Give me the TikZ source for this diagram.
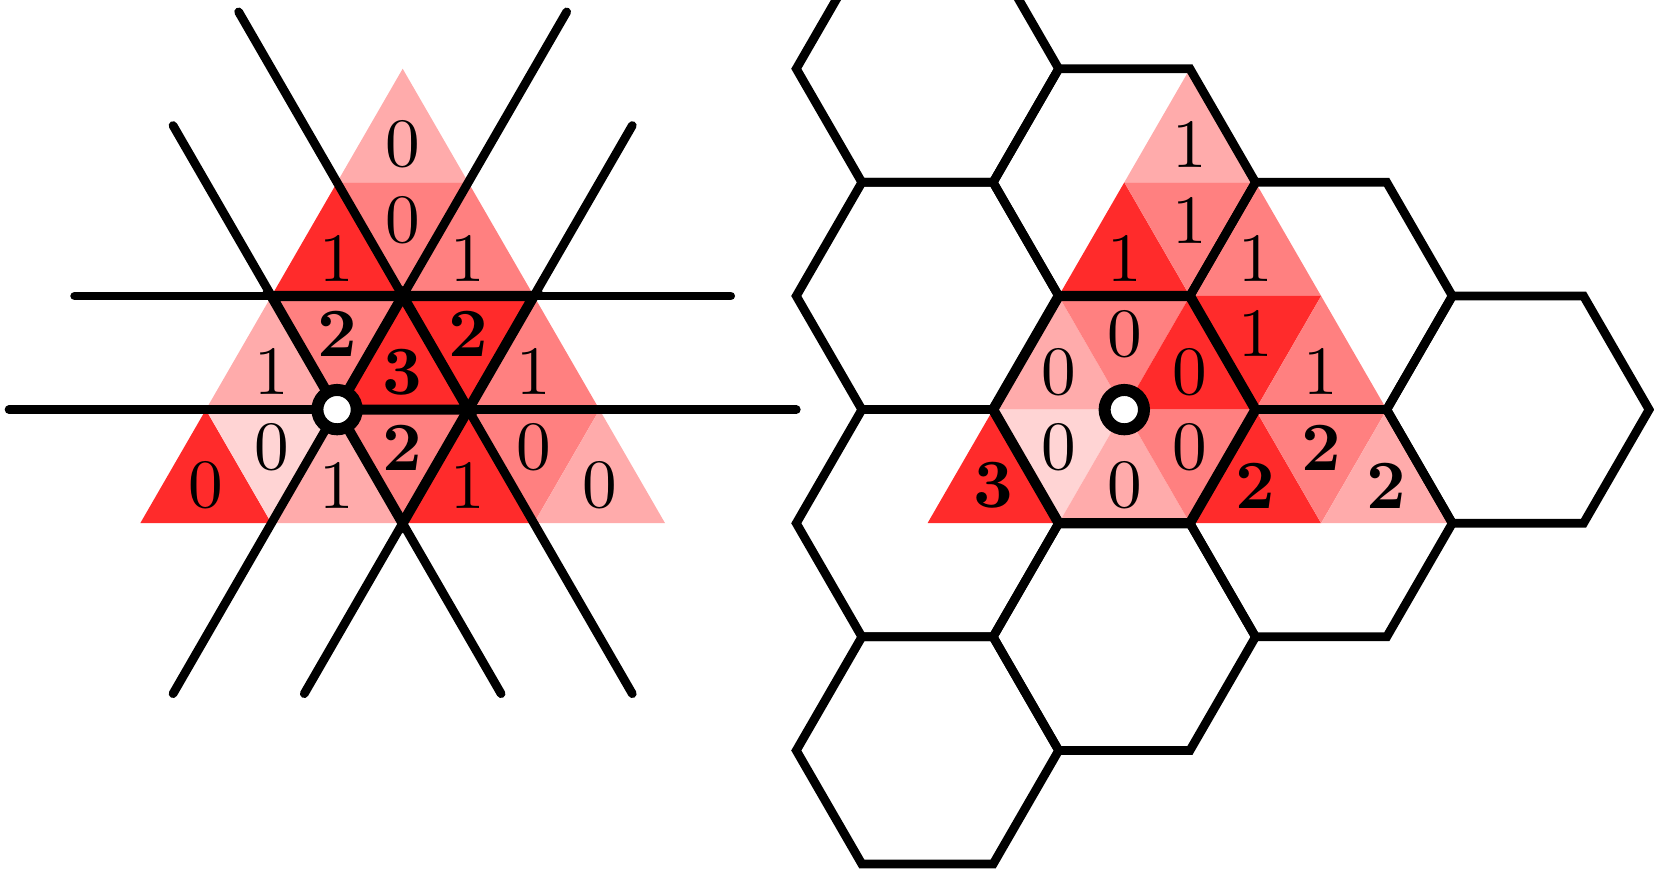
\documentclass[tikz,border=0pt]{standalone}
\usepackage{tikz}
\usetikzlibrary{positioning}

\begin{document}
\begin{tikzpicture}[x=1cm,y=0.866cm,
  pale/.style={fill=red!17}, soft/.style={fill=red!33},
  half/.style={fill=red!50}, deep/.style={fill=red!83},
  grid/.style={line width=1.9pt,line cap=round},
  bold grid/.style={line width=2.2pt,line cap=round},
  hexa/.style={line width=1.9pt},
  lbl/.style={scale=1.5,inner sep=0pt},
  hole/.style={draw,circle,fill=white,line width=2.6pt,minimum size=0.3cm,inner sep=0pt}]
\useasboundingbox (-1.069cm,-2.651cm) rectangle (11.537cm,3.988cm);
\clip (-1.069cm,-2.651cm) rectangle (11.537cm,3.988cm);

% same shading under both pictures
\foreach \dx in {0,6} {
\begin{scope}[shift={(\dx,0)}]
\fill[soft] (1.5,3) -- (2.5,3) -- (2,4) -- cycle;
\fill[deep] (1,2) -- (2,2) -- (1.5,3) -- cycle;
\fill[half] (1.5,3) -- (2.5,3) -- (2,2) -- cycle;
\fill[half] (2,2) -- (3,2) -- (2.5,3) -- cycle;
\fill[soft] (.5,1) -- (1.5,1) -- (1,2) -- cycle;
\fill[half] (1,2) -- (2,2) -- (1.5,1) -- cycle;
\fill[deep] (1.5,1) -- (2.5,1) -- (2,2) -- cycle;
\fill[deep] (2,2) -- (3,2) -- (2.5,1) -- cycle;
\fill[half] (2.5,1) -- (3.5,1) -- (3,2) -- cycle;
\fill[deep] (0,0) -- (1,0) -- (.5,1) -- cycle;
\fill[pale] (.5,1) -- (1.5,1) -- (1,0) -- cycle;
\fill[soft] (1,0) -- (2,0) -- (1.5,1) -- cycle;
\fill[half] (1.5,1) -- (2.5,1) -- (2,0) -- cycle;
\fill[deep] (2,0) -- (3,0) -- (2.5,1) -- cycle;
\fill[half] (2.5,1) -- (3.5,1) -- (3,0) -- cycle;
\fill[soft] (3,0) -- (4,0) -- (3.5,1) -- cycle;
\end{scope}}

% lines
\draw[grid] (-.5,2) -- (4.5,2);
\draw[grid] (-1,1) -- (5,1);
\draw[grid] (.75,4.5) -- (3.75,-1.5);
\draw[grid] (.25,3.5) -- (2.75,-1.5);
\draw[grid] (3.25,4.5) -- (.25,-1.5);
\draw[grid] (3.75,3.5) -- (1.25,-1.5);
\draw[bold grid] (1,2) -- (3,2) -- (2,0) -- cycle;
\draw[bold grid] (1.5,1) -- (2.5,1) -- (2,2) -- cycle;

% hexagons
\foreach \c in {(6,4),(7.5,3),(6,2),(9,2),(10.5,1),(6,0),(9,0),(7.5,-1),(6,-2)}
  \draw[hexa,shift={\c}] (-1,0) -- (-.5,1) -- (.5,1) -- (1,0) -- (.5,-1) -- (-.5,-1) -- cycle;
\draw[hexa,line width=2.2pt] (6.5,1) -- (7,2) -- (8,2) -- (8.5,1) -- (8,0) -- (7,0) -- cycle;

\node[lbl] (a1) at (2,3.333) {0};
\node[lbl] (a2) at (1.5,2.333) {1};
\node[lbl] (a3) at (2,2.667) {0};
\node[lbl] (a4) at (2.5,2.333) {1};
\node[lbl] (a5) at (1,1.333) {1};
\node[lbl] (a6) at (1.5,1.667) {\textbf{2}};
\node[lbl] (a7) at (2,1.333) {\textbf{3}};
\node[lbl] (a8) at (2.5,1.667) {\textbf{2}};
\node[lbl] (a9) at (3,1.333) {1};
\node[lbl] (a10) at (.5,.333) {0};
\node[lbl] (a11) at (1,.667) {0};
\node[lbl] (a12) at (1.5,.333) {1};
\node[lbl] (a13) at (2,.667) {\textbf{2}};
\node[lbl] (a14) at (2.5,.333) {1};
\node[lbl] (a15) at (3,.667) {0};
\node[lbl] (a16) at (3.5,.333) {0};

\node[lbl] (b1) at (8,3.333) {1};
\node[lbl] (b2) at (7.5,2.333) {1};
\node[lbl] (b3) at (8,2.667) {1};
\node[lbl] (b4) at (8.5,2.333) {1};
\node[lbl] (b5) at (7,1.333) {0};
\node[lbl] (b6) at (7.5,1.667) {0};
\node[lbl] (b7) at (8,1.333) {0};
\node[lbl] (b8) at (8.5,1.667) {1};
\node[lbl] (b9) at (9,1.333) {1};
\node[lbl] (b10) at (6.5,.333) {\textbf{3}};
\node[lbl] (b11) at (7,.667) {0};
\node[lbl] (b12) at (7.5,.333) {0};
\node[lbl] (b13) at (8,.667) {0};
\node[lbl] (b14) at (8.5,.333) {\textbf{2}};
\node[lbl] (b15) at (9,.667) {\textbf{2}};
\node[lbl] (b16) at (9.5,.333) {\textbf{2}};

\node[hole] (p) at (1.5,1) {};
\node[hole] (q) at (7.5,1) {};
\end{tikzpicture}
\end{document}
